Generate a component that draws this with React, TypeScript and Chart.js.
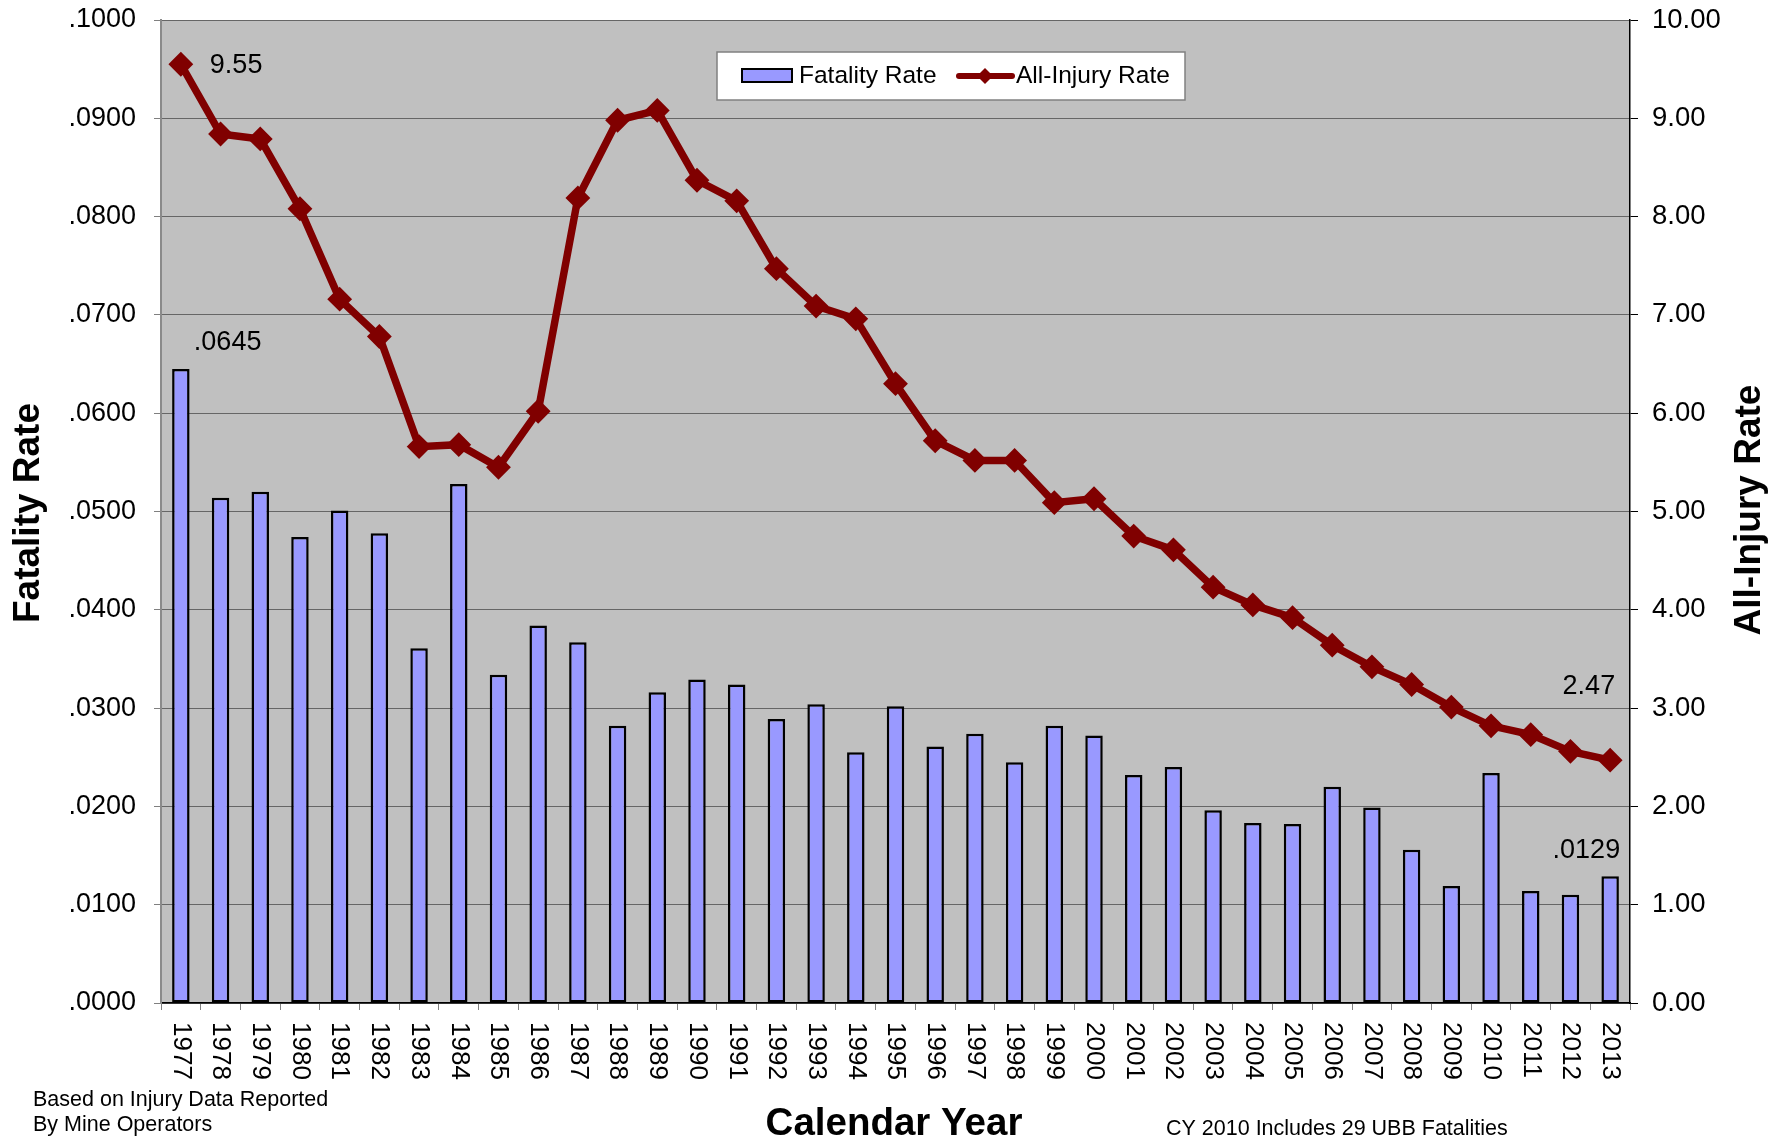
import React, { useEffect, useRef } from "react";
import { Chart, registerables } from "chart.js";

Chart.register(...registerables);

const years = [
  "1977", "1978", "1979", "1980", "1981", "1982", "1983", "1984", "1985", "1986",
  "1987", "1988", "1989", "1990", "1991", "1992", "1993", "1994", "1995", "1996",
  "1997", "1998", "1999", "2000", "2001", "2002", "2003", "2004", "2005", "2006",
  "2007", "2008", "2009", "2010", "2011", "2012", "2013",
];

const fatalityRate = [
  0.0645, 0.0514, 0.052, 0.0474, 0.0501, 0.0478, 0.0361, 0.0528, 0.0334, 0.0384,
  0.0367, 0.0282, 0.0316, 0.0329, 0.0324, 0.0289, 0.0304, 0.0255, 0.0302, 0.0261,
  0.0274, 0.0245, 0.0282, 0.0272, 0.0232, 0.024, 0.0196, 0.0183, 0.0182, 0.022,
  0.0199, 0.0156, 0.0119, 0.0234, 0.0114, 0.011, 0.0129,
];

const allInjuryRate = [
  9.55, 8.84, 8.79, 8.08, 7.16, 6.78, 5.66, 5.68, 5.45, 6.02,
  8.19, 8.98, 9.08, 8.37, 8.16, 7.47, 7.09, 6.96, 6.3, 5.72,
  5.52, 5.52, 5.09, 5.13, 4.75, 4.61, 4.23, 4.05, 3.92, 3.64,
  3.42, 3.24, 3.01, 2.82, 2.73, 2.56, 2.47,
];

const fatalityLabels = [".0645", ".0129"]; // first and last bars
const injuryLabels = ["9.55", "2.47"]; // first and last points

const leftAxis = { min: 0, max: 0.1, step: 0.01 };
const rightAxis = { min: 0, max: 10, step: 1 };

const seriesNames = ["Fatality Rate", "All-Injury Rate"];
const axisTitles = { x: "Calendar Year", left: "Fatality Rate", right: "All-Injury Rate" };
const notes = ["Based on Injury Data Reported", "By Mine Operators", "CY 2010 Includes 29 UBB Fatalities"];

const FONT = "'Liberation Sans', Arial, Helvetica, sans-serif";
const BAR_FILL = "#9999FF";
const LINE_COLOR = "#800000";

const W = 1786;
const H = 1141;

const zeroPad = (s: any) => {
  s.paddingTop = 0;
  s.paddingBottom = 0;
  s.paddingLeft = 0;
  s.paddingRight = 0;
};

const decorPlugin = {
  id: "decor",
  beforeDraw(chart: any) {
    const { ctx, chartArea } = chart;
    ctx.save();
    ctx.fillStyle = "#ffffff";
    ctx.fillRect(0, 0, chart.width, chart.height);
    ctx.fillStyle = "#C0C0C0";
    ctx.fillRect(chartArea.left, chartArea.top, chartArea.right - chartArea.left, chartArea.bottom - chartArea.top);
    ctx.restore();
  },
  afterDraw(chart: any) {
    const { ctx, chartArea } = chart;
    const xScale = chart.scales.x;
    ctx.save();
    ctx.fillStyle = "#000";

    // x tick labels, rotated clockwise (read top to bottom)
    ctx.font = `26px ${FONT}`;
    ctx.textAlign = "left";
    ctx.textBaseline = "middle";
    years.forEach((y, i) => {
      const x = xScale.getPixelForValue(i);
      ctx.save();
      ctx.translate(x, chartArea.bottom + 19);
      ctx.rotate(Math.PI / 2);
      ctx.fillText(y, 0, 0);
      ctx.restore();
    });

    // data labels
    const lineMeta = chart.getDatasetMeta(0);
    const barMeta = chart.getDatasetMeta(1);
    const p0 = lineMeta.data[0];
    const pN = lineMeta.data[lineMeta.data.length - 1];
    const b0 = barMeta.data[0];
    const bN = barMeta.data[barMeta.data.length - 1];
    ctx.font = `27px ${FONT}`;
    ctx.textBaseline = "middle";
    ctx.textAlign = "left";
    ctx.fillText(injuryLabels[0], p0.x + 29, p0.y + 1);
    ctx.fillText(fatalityLabels[0], b0.x + 13, b0.y - 26);
    ctx.textAlign = "right";
    ctx.fillText(injuryLabels[1], pN.x + 5, pN.y - 74);
    ctx.fillText(fatalityLabels[1], bN.x + 10, bN.y - 26);

    // axis titles
    ctx.font = `bold 37px ${FONT}`;
    ctx.textAlign = "center";
    ctx.textBaseline = "middle";
    ctx.save();
    ctx.translate(29, 513);
    ctx.rotate(-Math.PI / 2);
    ctx.fillText(axisTitles.left, 0, 0);
    ctx.restore();
    ctx.save();
    ctx.translate(1750, 510);
    ctx.rotate(-Math.PI / 2);
    ctx.fillText(axisTitles.right, 0, 0);
    ctx.restore();
    ctx.font = `bold 38.5px ${FONT}`;
    ctx.textBaseline = "alphabetic";
    ctx.fillText(axisTitles.x, 894, 1135);

    // notes
    ctx.font = `21.5px ${FONT}`;
    ctx.textAlign = "left";
    ctx.textBaseline = "middle";
    ctx.fillText(notes[0], 33, 1100);
    ctx.fillText(notes[1], 33, 1125);
    ctx.fillText(notes[2], 1166, 1129);

    // legend box
    const lx = 717, ly = 52, lw = 468, lh = 48;
    ctx.fillStyle = "#ffffff";
    ctx.fillRect(lx, ly, lw, lh);
    ctx.strokeStyle = "#808080";
    ctx.lineWidth = 1.5;
    ctx.strokeRect(lx, ly, lw, lh);
    // bar swatch
    ctx.fillStyle = BAR_FILL;
    ctx.fillRect(742, 69, 50, 13);
    ctx.strokeStyle = "#000";
    ctx.lineWidth = 2;
    ctx.strokeRect(742, 69, 50, 13);
    ctx.fillStyle = "#000";
    ctx.font = `24.5px ${FONT}`;
    ctx.textBaseline = "middle";
    ctx.fillText(seriesNames[0], 799, 76);
    // line swatch
    ctx.strokeStyle = LINE_COLOR;
    ctx.lineWidth = 6;
    ctx.lineCap = "round";
    ctx.beginPath();
    ctx.moveTo(959, 76);
    ctx.lineTo(1012, 76);
    ctx.stroke();
    ctx.fillStyle = LINE_COLOR;
    ctx.beginPath();
    ctx.moveTo(985, 68);
    ctx.lineTo(993, 76);
    ctx.lineTo(985, 84);
    ctx.lineTo(977, 76);
    ctx.closePath();
    ctx.fill();
    ctx.fillStyle = "#000";
    ctx.fillText(seriesNames[1], 1016, 76);

    ctx.restore();
  },
};

export default function App() {
  const ref = useRef<HTMLCanvasElement | null>(null);

  useEffect(() => {
    if (!ref.current) return;
    const chart = new Chart(ref.current, {
      type: "bar",
      data: {
        labels: years,
        datasets: [
          {
            type: "line",
            label: seriesNames[1],
            data: allInjuryRate,
            yAxisID: "y1",
            borderColor: LINE_COLOR,
            backgroundColor: LINE_COLOR,
            borderWidth: 7.5,
            pointStyle: "rectRot",
            pointRadius: 11,
            pointBorderWidth: 2,
            pointBackgroundColor: LINE_COLOR,
            pointBorderColor: LINE_COLOR,
            tension: 0,
            order: 0,
          } as any,
          {
            type: "bar",
            label: seriesNames[0],
            data: fatalityRate,
            yAxisID: "y",
            backgroundColor: BAR_FILL,
            borderColor: "#000000",
            borderWidth: 2.5,
            borderSkipped: false,
            barPercentage: 0.44,
            categoryPercentage: 1,
            order: 1,
          } as any,
        ],
      },
      options: {
        responsive: false,
        animation: false,
        devicePixelRatio: 1,
        layout: { padding: { top: 20, left: 0, right: 0, bottom: 0 } },
        plugins: {
          legend: { display: false },
          title: { display: false },
          tooltip: { enabled: false },
        },
        scales: {
          x: {
            offset: true,
            grid: {
              offset: true,
              drawOnChartArea: false,
              drawTicks: true,
              tickLength: 7,
              color: "#808080",
            },
            border: { display: true, color: "#000000", width: 1.5 },
            ticks: { display: false },
            afterFit: (s: any) => {
              s.height = H - 1003;
              zeroPad(s);
            },
          },
          y: {
            position: "left",
            min: leftAxis.min,
            max: leftAxis.max,
            grid: { color: "#666666", lineWidth: 1, tickLength: 7, tickColor: "#808080" },
            border: { display: true, color: "#8a8a8a", width: 2 },
            ticks: {
              stepSize: leftAxis.step,
              padding: 18,
              color: "#000",
              font: { family: FONT, size: 27 },
              callback: (v: any) => Number(v).toFixed(4).replace(/^0/, ""),
            },
            afterFit: (s: any) => {
              s.width = 161;
              zeroPad(s);
            },
          },
          y1: {
            position: "right",
            min: rightAxis.min,
            max: rightAxis.max,
            grid: { drawOnChartArea: false, tickLength: 8, color: "#000" },
            border: { display: true, color: "#000000", width: 1.5 },
            ticks: {
              stepSize: rightAxis.step,
              padding: 14,
              color: "#000",
              font: { family: FONT, size: 27.5 },
              callback: (v: any) => Number(v).toFixed(2),
            },
            afterFit: (s: any) => {
              s.width = W - 1630;
              zeroPad(s);
            },
          },
        },
      },
      plugins: [decorPlugin],
    });
    return () => chart.destroy();
  }, []);

  return (
    <div style={{ position: "absolute", left: 0, top: 0, width: W, height: H, background: "#fff" }}>
      <canvas ref={ref} width={W} height={H} style={{ display: "block", width: W, height: H }} />
    </div>
  );
}
